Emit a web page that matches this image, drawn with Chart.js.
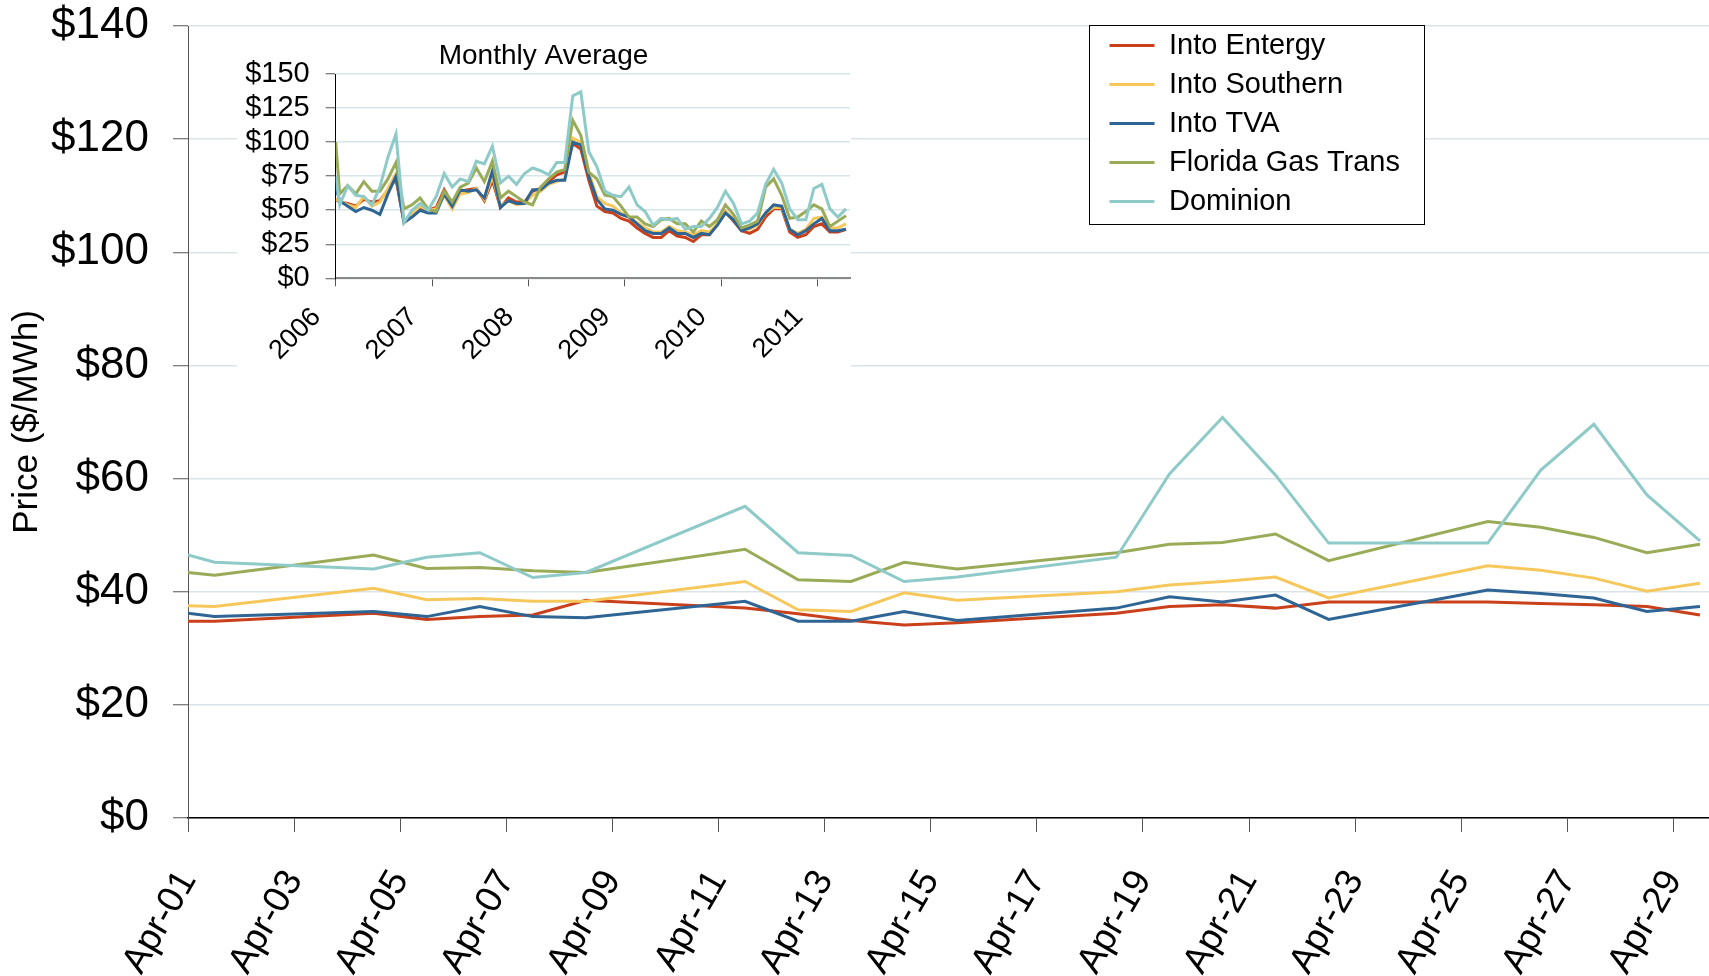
<!DOCTYPE html>
<html>
<head>
<meta charset="utf-8">
<title>Daily Prices - April 2011</title>
<script src="https://cdn.jsdelivr.net/npm/chart.js@4.4.0/dist/chart.umd.min.js"></script>
<style>
  html, body { margin: 0; padding: 0; background: #fff; overflow: hidden; }
  #main { position: absolute; left: 0; top: 0; width: 1709px; height: 976px; }
  #inset { position: absolute; left: 237px; top: 28px; width: 614px; height: 347px; background: #fff; }
  #legendBox { position: absolute; left: 1089px; top: 25px; width: 336px; height: 200px;
               box-sizing: border-box; border: 1px solid #000; background: #fff; }
</style>
</head>
<body>
<div id="main"><canvas id="chart"></canvas></div>
<div id="inset"><canvas id="insetChart"></canvas></div>
<div id="legendBox"><canvas id="legendChart"></canvas></div>
<script>
// series names + colours
const seriesNames = ["Into Entergy", "Into Southern", "Into TVA", "Florida Gas Trans", "Dominion"];
const seriesColors = ["#c9401b", "#f6c85c", "#2f6594", "#9aab58", "#8ecbc8"];

// daily prices, April 2011 (day of month, trades plotted mid-day)
const aprilDays = [1, 1.5, 4.5, 5.5, 6.5, 7.5, 8.5, 11.5, 12.5, 13.5, 14.5, 15.5, 18.5, 19.5, 20.5, 21.5, 22.5, 25.5, 26.5, 27.5, 28.5, 29.5];
const entergyDaily  = [34.8, 34.8, 36.2, 35.1, 35.6, 35.9, 38.5, 37.1, 36.1, 34.9, 34.1, 34.5, 36.2, 37.4, 37.7, 37.1, 38.2, 38.2, 37.9, 37.7, 37.4, 35.9];
const southernDaily = [37.5, 37.4, 40.6, 38.6, 38.8, 38.3, 38.3, 41.8, 36.8, 36.5, 39.8, 38.5, 40.0, 41.2, 41.8, 42.6, 38.9, 44.6, 43.8, 42.4, 40.1, 41.5];
const tvaDaily      = [36.2, 35.6, 36.5, 35.6, 37.4, 35.6, 35.4, 38.3, 34.8, 34.8, 36.5, 34.9, 37.1, 39.1, 38.2, 39.4, 35.1, 40.3, 39.7, 38.9, 36.5, 37.4];
const fgtDaily      = [43.4, 42.9, 46.5, 44.1, 44.3, 43.7, 43.4, 47.5, 42.1, 41.8, 45.2, 44.0, 46.9, 48.4, 48.7, 50.2, 45.5, 52.4, 51.4, 49.6, 46.9, 48.4];
const dominionDaily = [46.5, 45.2, 44.0, 46.1, 46.9, 42.5, 43.4, 55.1, 46.9, 46.4, 41.8, 42.6, 46.1, 60.8, 70.8, 60.6, 48.6, 48.6, 61.5, 69.6, 57.1, 49.0];

const dayTicks = [1, 3, 5, 7, 9, 11, 13, 15, 17, 19, 21, 23, 25, 27, 29];
const dayTickLabels = ["Apr-01", "Apr-03", "Apr-05", "Apr-07", "Apr-09", "Apr-11", "Apr-13", "Apr-15",
                       "Apr-17", "Apr-19", "Apr-21", "Apr-23", "Apr-25", "Apr-27", "Apr-29"];

// monthly averages (months since Jan 2006)
const monthPos = [0, 0.5, 1.5, 2.5, 3.5, 4.5, 5.5, 6.5, 7.5, 8.5, 9.5, 10.5, 11.5, 12.5, 13.5, 14.5,
  15.5, 16.5, 17.5, 18.5, 19.5, 20.5, 21.5, 22.5, 23.5, 24.5, 25.5, 26.5, 27.5, 28.5, 29.5, 30.5,
  31.5, 32.5, 33.5, 34.5, 35.5, 36.5, 37.5, 38.5, 39.5, 40.5, 41.5, 42.5, 43.5, 44.5, 45.5, 46.5,
  47.5, 48.5, 49.5, 50.5, 51.5, 52.5, 53.5, 54.5, 55.5, 56.5, 57.5, 58.5, 59.5, 60.5, 61.5, 62.5, 63.5];
const entergyMonthly  = [58, 56, 55, 53, 58, 56, 57, 65, 73, 41, 46, 52, 50, 52, 65, 55, 64, 65, 66, 57,
  72, 52, 59, 56, 56, 64, 66, 71, 76, 78, 99, 95, 72, 53, 49, 48, 44, 42, 37, 33,
  30, 30, 35, 31, 30, 27, 32, 32, 40, 49, 42, 35, 33, 36, 45, 51, 51, 34, 30, 32, 38, 40, 34, 34, 36];
const southernMonthly = [58, 57, 54, 52, 60, 53, 56, 66, 77, 42, 47, 53, 50, 51, 61, 51, 62, 63, 66, 58,
  75, 53, 57, 54, 55, 61, 64, 69, 71, 73, 103, 100, 78, 60, 55, 53, 48, 45, 41, 37,
  34, 34, 38, 35, 34, 32, 35, 34, 40, 49, 44, 36, 36, 39, 48, 52, 52, 36, 33, 36, 44, 45, 37, 37, 40];
const tvaMonthly      = [67, 57, 53, 49, 52, 50, 47, 62, 75, 41, 45, 50, 48, 48, 62, 53, 65, 64, 65, 59,
  79, 52, 57, 55, 55, 65, 65, 70, 72, 72, 100, 98, 75, 58, 51, 50, 47, 45, 40, 35,
  33, 33, 37, 33, 33, 30, 33, 32, 39, 48, 43, 35, 37, 40, 48, 54, 53, 36, 32, 35, 40, 44, 35, 35, 36];
const fgtMonthly      = [100, 62, 68, 62, 71, 64, 64, 73, 85, 51, 54, 59, 51, 49, 64, 56, 67, 70, 81, 71,
  86, 59, 64, 60, 56, 54, 67, 73, 78, 80, 116, 105, 78, 73, 61, 60, 53, 45, 45, 40,
  38, 43, 44, 40, 40, 34, 42, 38, 43, 54, 47, 37, 39, 42, 67, 73, 61, 44, 45, 49, 54, 51, 38, 42, 46];
const dominionMonthly = [75, 54, 68, 61, 60, 54, 67, 89, 106, 41, 50, 55, 50, 60, 77, 67, 73, 71, 86, 84,
  97, 70, 75, 69, 77, 81, 79, 76, 85, 85, 134, 137, 93, 82, 64, 61, 60, 67, 54, 49,
  39, 44, 43, 44, 36, 38, 38, 44, 52, 64, 55, 40, 42, 48, 69, 80, 70, 51, 43, 43, 66, 69, 51, 45, 51];

const yearTicks = [0, 12, 24, 36, 48, 60];
const yearLabels = ["2006", "2007", "2008", "2009", "2010", "2011"];

const dailySeries = [entergyDaily, southernDaily, tvaDaily, fgtDaily, dominionDaily];
const monthlySeries = [entergyMonthly, southernMonthly, tvaMonthly, fgtMonthly, dominionMonthly];

Chart.defaults.font.family = "'Liberation Sans', Arial, sans-serif";
Chart.defaults.color = "#000";
Chart.defaults.animation = false;

// build line datasets; Dominion ends up drawn on top like the original
function lineSets(xs, seriesList) {
  return seriesList.map((vals, i) => ({
    label: seriesNames[i],
    data: vals.map((v, j) => ({ x: xs[j], y: v })),
    borderColor: seriesColors[i],
    backgroundColor: seriesColors[i],
    borderWidth: 3,
    pointRadius: 0,
    tension: 0,
    fill: false,
    order: seriesList.length - i
  }));
}

// main chart
new Chart(document.getElementById("chart"), {
  type: "line",
  data: { datasets: lineSets(aprilDays, dailySeries) },
  options: {
    responsive: true,
    maintainAspectRatio: false,
    layout: { padding: { top: 26, right: 0, bottom: 0, left: 0 } },
    plugins: { legend: { display: false }, tooltip: { enabled: false } },
    scales: {
      x: {
        type: "linear",
        min: 1,
        max: 29.67,
        afterBuildTicks: (s) => { s.ticks = dayTicks.map((v) => ({ value: v })); },
        afterFit: (s) => { s.height = 158; s.paddingRight = 0; s.paddingLeft = 0; },
        border: { color: "#000", width: 1.5 },
        grid: { drawOnChartArea: false, tickLength: 14, tickColor: "#555", tickWidth: 1 },
        ticks: {
          autoSkip: false, minRotation: 60, maxRotation: 60, padding: 31,
          font: { size: 37 },
          callback: (v, i) => dayTickLabels[i]
        }
      },
      y: {
        min: 0,
        max: 140,
        // fixed axis width, and no extra room reserved above the top label
        afterFit: (s) => { s.width = 188; s.paddingTop = 0; s.paddingBottom = 0; },
        border: { color: "#555", width: 1 },
        grid: { color: "#dae4e8", lineWidth: 1.5, tickLength: 15, tickColor: "#555", tickWidth: 1 },
        ticks: { stepSize: 20, padding: 24, autoSkip: false, font: { size: 44 }, callback: (v) => "$" + v },
        title: { display: true, text: "Price ($/MWh)", font: { size: 35 }, padding: { top: 6, bottom: 0 } }
      }
    }
  }
});

// inset: monthly averages
new Chart(document.getElementById("insetChart"), {
  type: "line",
  data: { datasets: lineSets(monthPos, monthlySeries) },
  options: {
    responsive: true,
    maintainAspectRatio: false,
    layout: { padding: { right: 1 } },
    plugins: {
      legend: { display: false },
      tooltip: { enabled: false },
      title: {
        display: true, text: "Monthly Average", color: "#000",
        font: { size: 28, weight: "normal" }, padding: { top: 11, bottom: 1.5 }
      }
    },
    scales: {
      x: {
        type: "linear",
        min: 0,
        max: 64,
        afterBuildTicks: (s) => { s.ticks = yearTicks.map((v) => ({ value: v })); },
        afterFit: (s) => { s.height = 96.7; s.paddingRight = 0; s.paddingLeft = 0; },
        border: { color: "#888", width: 2 },
        grid: { drawOnChartArea: false, tickLength: 8, tickColor: "#555", tickWidth: 1 },
        ticks: {
          autoSkip: false, minRotation: 45, maxRotation: 45, padding: 15, labelOffset: -19,
          font: { size: 27 },
          callback: (v, i) => yearLabels[i]
        }
      },
      y: {
        min: 0,
        max: 150,
        afterFit: (s) => { s.width = 98.7; s.paddingTop = 0; s.paddingBottom = 0; },
        border: { color: "#000", width: 1 },
        grid: { color: "#d6e5e7", lineWidth: 1.5, tickLength: 10, tickColor: "#555", tickWidth: 1 },
        ticks: { stepSize: 25, autoSkip: false, padding: 16, font: { size: 29 }, callback: (v) => "$" + v }
      }
    }
  }
});

// legend box (its own small chart so it can sit inside the plot)
new Chart(document.getElementById("legendChart"), {
  type: "line",
  data: {
    datasets: seriesNames.map((name, i) => ({
      label: name, data: [], borderColor: seriesColors[i], backgroundColor: seriesColors[i], borderWidth: 3
    }))
  },
  options: {
    responsive: true,
    maintainAspectRatio: false,
    layout: { padding: { top: -5, left: 9.5 } },
    scales: { x: { display: false }, y: { display: false } },
    plugins: {
      tooltip: { enabled: false },
      legend: {
        position: "top",
        align: "start",
        maxHeight: 400,
        labels: {
          usePointStyle: true, pointStyle: "line", pointStyleWidth: 45,
          padding: 10, color: "#000", font: { size: 29 }
        }
      }
    }
  }
});
</script>
</body>
</html>
